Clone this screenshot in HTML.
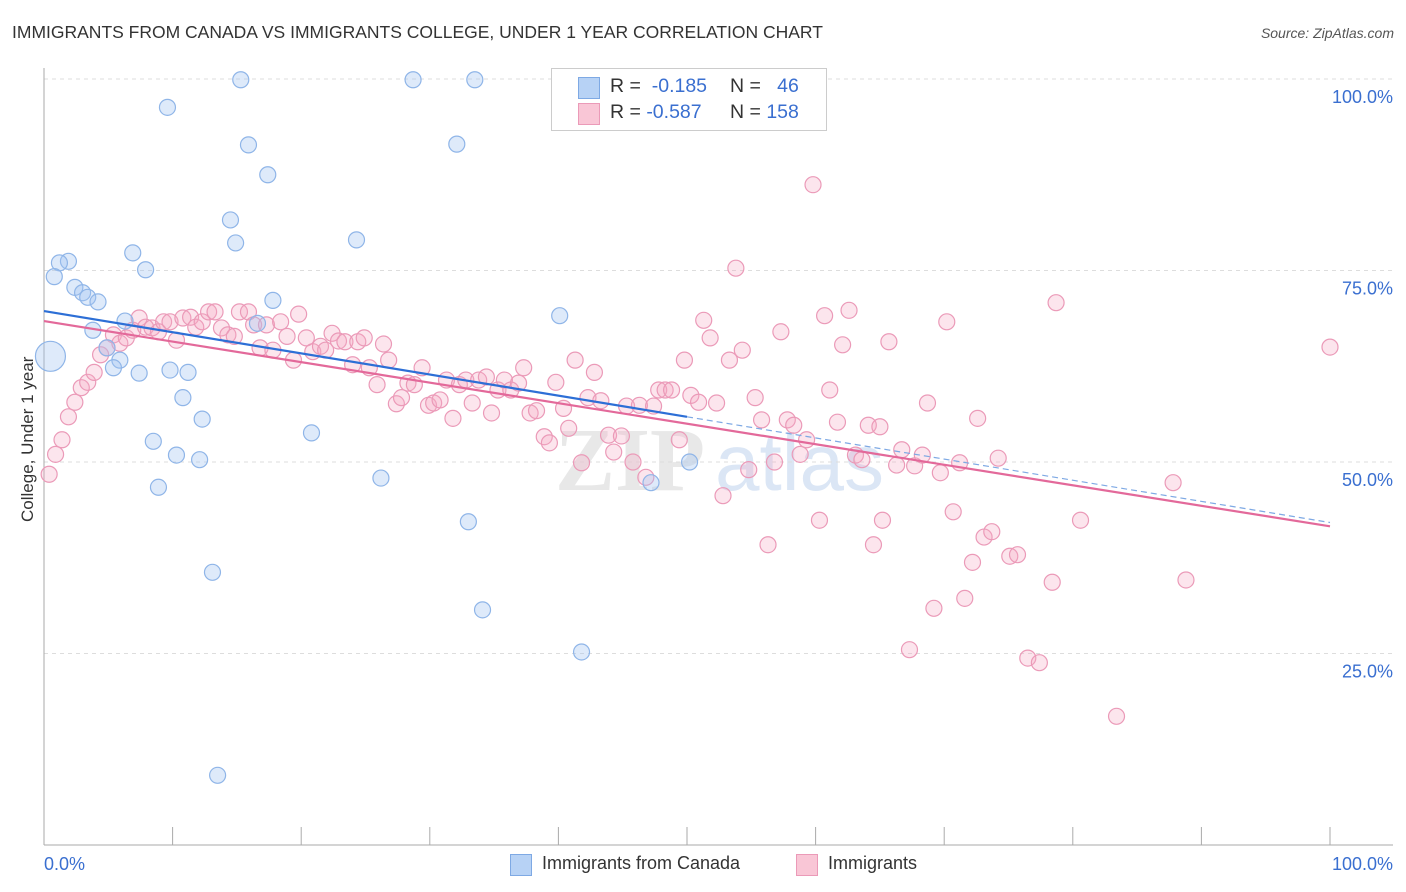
<!DOCTYPE html>
<html><head><meta charset="utf-8">
<style>
body{margin:0;background:#fff;font-family:"Liberation Sans",sans-serif;}
#wrap{position:relative;width:1406px;height:892px;overflow:hidden;}
.t{position:absolute;white-space:nowrap;}
</style></head><body>
<div id="wrap">
<div class="t" style="left:12px;top:22px;font-size:17.5px;color:#333;">IMMIGRANTS FROM CANADA VS IMMIGRANTS COLLEGE, UNDER 1 YEAR CORRELATION CHART</div>
<div class="t" style="right:12px;top:25px;font-size:14px;color:#555;font-style:italic;">Source: ZipAtlas.com</div>
<svg id="plot" width="1406" height="892" style="position:absolute;left:0;top:0;"></svg>
<div style="position:absolute;left:551px;top:68px;width:274px;height:61px;border:1px solid #ccc;background:#fff;font-size:19.5px;">
 <div style="position:absolute;left:26px;top:8px;width:20px;height:20px;background:#b7d2f5;border:1px solid #7ea9e4;"></div>
 <div class="t" style="left:58px;top:6px;color:#333;">R = <span style="color:#3a6fd0">&nbsp;-0.185</span></div>
 <div class="t" style="left:178px;top:6px;color:#333;">N = <span style="color:#3a6fd0">&nbsp;&nbsp;46</span></div>
 <div style="position:absolute;left:26px;top:34px;width:20px;height:20px;background:#f9c6d6;border:1px solid #eb9ab8;"></div>
 <div class="t" style="left:58px;top:32px;color:#333;">R = <span style="color:#3a6fd0">-0.587</span></div>
 <div class="t" style="left:178px;top:32px;color:#333;">N = <span style="color:#3a6fd0">158</span></div>
</div>
<div style="position:absolute;left:510px;top:853px;font-size:18px;color:#333;">
 <div style="position:absolute;left:0;top:1px;width:20px;height:20px;background:#b7d2f5;border:1px solid #7ea9e4;"></div>
 <div class="t" style="left:32px;top:0;">Immigrants from Canada</div>
 <div style="position:absolute;left:286px;top:1px;width:20px;height:20px;background:#f9c6d6;border:1px solid #eb9ab8;"></div>
 <div class="t" style="left:318px;top:0;">Immigrants</div>
</div>
<div class="t" style="left:-37px;top:447px;font-size:17px;color:#333;transform:rotate(-90deg);transform-origin:center;width:130px;text-align:center;">College, Under 1 year</div>
</div>
<script>
const yTicks=[25,50,75,100];
const yTickLabels=["25.0%","50.0%","75.0%","100.0%"];
const xTickLabels=["0.0%","100.0%"];
const blueX=[15.3,28.7,33.5,9.6,15.9,32.1,17.4,14.5,14.9,24.3,6.9,7.9,1.9,1.2,0.8,2.4,3.0,3.4,4.2,17.8,40.1,6.3,3.8,16.6,4.9,5.9,5.4,7.4,9.8,11.2,10.8,12.3,20.8,8.5,10.3,12.1,8.9,26.2,50.2,47.2,33.0,13.1,34.1,41.8,13.5,0.5];
const blueY=[99.9,99.9,99.9,96.3,91.4,91.5,87.5,81.6,78.6,79.0,77.3,75.1,76.2,76.0,74.2,72.8,72.1,71.5,70.9,71.1,69.1,68.4,67.2,68.1,64.9,63.3,62.3,61.6,62.0,61.7,58.4,55.6,53.8,52.7,50.9,50.3,46.7,47.9,50.0,47.3,42.2,35.6,30.7,25.2,9.1,63.8];
const pinkX=[0.4,0.9,1.4,1.9,2.4,2.9,3.4,3.9,4.4,4.9,5.4,5.9,6.4,6.9,7.4,7.9,8.4,8.9,9.3,9.8,10.3,10.8,11.4,11.8,12.3,12.8,13.3,13.8,14.3,14.8,15.2,15.9,16.3,16.8,17.3,17.8,18.4,18.9,19.4,19.8,20.4,20.9,21.5,21.9,22.4,22.9,23.4,24.0,24.4,24.9,25.3,25.9,26.4,26.8,27.4,27.8,28.3,28.8,29.4,29.9,30.3,30.8,31.3,31.8,32.3,32.8,33.3,33.8,34.4,34.8,35.3,35.8,36.3,36.9,37.3,37.8,38.3,38.9,39.3,39.8,40.4,40.8,41.3,41.8,42.3,42.8,43.3,43.9,44.3,44.9,45.3,45.8,46.3,46.8,47.4,47.8,48.3,48.8,49.4,49.8,50.3,50.9,51.3,51.8,52.3,52.8,53.3,53.8,54.3,54.8,55.3,55.8,56.3,56.8,57.3,57.8,58.3,58.8,59.3,59.8,60.3,60.7,61.1,61.7,62.1,62.6,63.1,63.6,64.1,64.5,65.0,65.2,65.7,66.3,66.7,67.3,67.7,68.3,68.7,69.2,69.7,70.2,70.7,71.2,71.6,72.2,72.6,73.1,73.7,74.2,75.1,75.7,76.5,77.4,78.4,78.7,80.6,83.4,87.8,88.8,100];
const pinkY=[48.4,51.0,52.9,55.9,57.8,59.7,60.4,61.7,64.0,64.9,66.6,65.5,66.2,67.2,68.8,67.6,67.5,67.0,68.3,68.3,65.9,68.8,68.9,67.6,68.3,69.6,69.6,67.5,66.6,66.4,69.6,69.6,67.9,64.9,67.9,64.6,68.3,66.4,63.3,69.3,66.2,64.4,65.1,64.6,66.8,65.8,65.7,62.7,65.7,66.2,62.3,60.1,65.4,63.3,57.6,58.4,60.3,60.1,62.3,57.4,57.7,58.1,60.7,55.7,60.1,60.7,57.7,60.7,61.1,56.4,59.4,60.7,59.4,60.3,62.3,56.4,56.7,53.3,52.5,60.4,57.0,54.4,63.3,49.9,58.4,61.7,58.0,53.5,51.3,53.4,57.3,50.0,57.4,48.0,57.3,59.4,59.4,59.4,52.9,63.3,58.7,57.8,68.5,66.2,57.7,45.6,63.3,75.3,64.6,49.0,58.4,55.5,39.2,50.0,67.0,55.5,54.8,51.0,52.9,86.2,42.4,69.1,59.4,55.2,65.3,69.8,50.9,50.3,54.8,39.2,54.6,42.4,65.7,49.6,51.6,25.5,49.5,50.9,57.7,30.9,48.6,68.3,43.5,49.9,32.2,36.9,55.7,40.2,40.9,50.5,37.7,37.9,24.4,23.8,34.3,70.8,42.4,16.8,47.3,34.6,65.0];
const blueTrend=[69.7,-0.276]; // intercept, slope
const pinkTrend=[68.4,-0.268];
const X=v=>44+v*12.86, Y=v=>845-v*7.66;
const NS="http://www.w3.org/2000/svg", svg=document.getElementById('plot');
function mk(t,a){const e=document.createElementNS(NS,t);for(const k in a)e.setAttribute(k,a[k]);svg.appendChild(e);return e;}
// watermark
let wm=mk('text',{x:555,y:490,'font-size':90,'font-family':'Liberation Serif,serif','font-weight':'bold',fill:'#e8e8e8'});wm.textContent='ZIP';

let wm2=mk('text',{x:715,y:490,'font-size':80,'font-family':'Liberation Sans,sans-serif',fill:'#dbe6f5'});wm2.textContent='atlas';

yTicks.forEach((t,i)=>{
 const g=mk('line',{x1:44,x2:1393,y1:Y(t),y2:Y(t),stroke:'#ddd','stroke-dasharray':'4,4'});
 
 const l=mk('text',{x:1393,y:Y(t)+24,'text-anchor':'end','font-size':18,fill:'#3a6fd0','font-family':'Liberation Sans,sans-serif'});
 l.textContent=yTickLabels[i];
});
let ax=mk('line',{x1:44,x2:44,y1:68,y2:845,stroke:'#aaa'});
let bx=mk('line',{x1:44,x2:1393,y1:845,y2:845,stroke:'#aaa'});
for(let i=0;i<=10;i++){const tk=mk('line',{x1:X(i*10),x2:X(i*10),y1:827,y2:845,stroke:'#aaa'});}
[[0,'start',44],[100,'end',1393]].forEach((d,i)=>{const t=mk('text',{x:d[2],y:870,'text-anchor':d[1],'font-size':18,fill:'#3a6fd0','font-family':'Liberation Sans,sans-serif'});t.textContent=xTickLabels[i];});
pinkX.forEach((x,i)=>{const c=mk('circle',{cx:X(x),cy:Y(pinkY[i]),r:8,fill:'rgba(245,170,197,0.3)',stroke:'#eb9ab8','stroke-width':1.2});});
blueX.forEach((x,i)=>{const c=mk('circle',{cx:X(x),cy:Y(blueY[i]),r:i==blueX.length-1?15:8,fill:'rgba(160,196,240,0.35)',stroke:'#8fb5e8','stroke-width':1.2});});
const f=(t,x)=>t[0]+t[1]*x;
let l1=mk('line',{x1:X(0),y1:Y(f(blueTrend,0)),x2:X(50),y2:Y(f(blueTrend,50)),stroke:'#2d6fd6','stroke-width':2.2});
let l2=mk('line',{x1:X(50),y1:Y(f(blueTrend,50)),x2:X(100),y2:Y(f(blueTrend,100)),stroke:'#7ea9e4','stroke-width':1.2,'stroke-dasharray':'6,4'});
let l3=mk('line',{x1:X(0),y1:Y(f(pinkTrend,0)),x2:X(100),y2:Y(f(pinkTrend,100)),stroke:'#e3699a','stroke-width':2.2});
</script>
</body></html>
